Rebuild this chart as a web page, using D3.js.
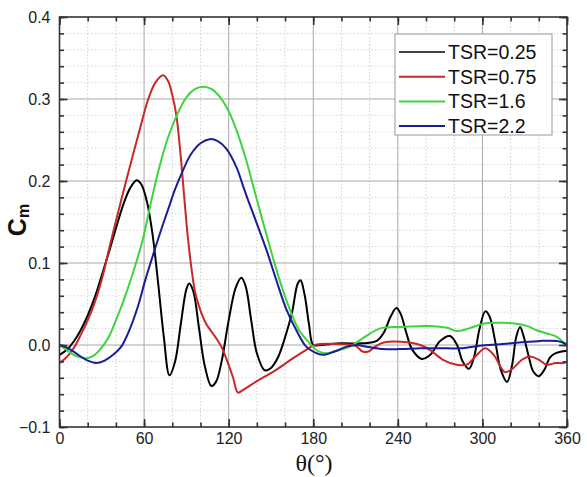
<!DOCTYPE html>
<html>
<head>
<meta charset="utf-8">
<script src="https://cdn.jsdelivr.net/npm/d3@7"></script>
<style>
  body { margin: 0; background: #fff; }
  svg { display: block; }
  .tick text { font-family: Arial, "Liberation Sans", sans-serif; }
</style>
</head>
<body>
<div id="chart"></div>
<script>
// series: [theta (deg), Cm]
const tsr025 = [
  [0, -0.012], [5, -0.006], [10, 0.004], [15, 0.018], [20, 0.036], [25, 0.058],
  [30, 0.085], [35, 0.113], [40, 0.142], [45, 0.17], [50, 0.191], [54.7, 0.201],
  [58, 0.196], [62, 0.175], [66, 0.135], [70, 0.075], [74, 0.01], [78, -0.037],
  [82, -0.02], [86, 0.025], [90, 0.068], [92, 0.075], [95, 0.065], [99, 0.02],
  [103, -0.025], [107.7, -0.05], [111, -0.045], [115, -0.02], [120, 0.03],
  [125, 0.07], [129, 0.082], [132, 0.072], [136, 0.03], [140, -0.01],
  [145.6, -0.031], [150, -0.028], [155, -0.015], [161, 0.015], [165, 0.04],
  [169, 0.075], [171, 0.079], [174, 0.06], [177, 0.025], [180, 0.0], [185, 0.0],
  [200, 0.002], [215, 0.002], [225, 0.005], [230, 0.015], [235, 0.035],
  [239, 0.045], [242, 0.038], [246, 0.015], [250, -0.005], [257, -0.017],
  [263, -0.012], [270, 0.005], [277, 0.011], [282, 0.0], [286, -0.02],
  [290.5, -0.029], [294, -0.015], [298, 0.02], [302, 0.041], [305, 0.035],
  [309, 0.005], [313, -0.03], [317.5, -0.045], [321, -0.025], [324, 0.01],
  [326.7, 0.022], [329, 0.012], [333, -0.015], [336, -0.032], [340, -0.038],
  [344, -0.03], [348, -0.015], [352, -0.01], [356, -0.008], [360, -0.007]
];
const tsr075 = [
  [0, -0.022], [5, -0.015], [10, -0.004], [15, 0.012], [20, 0.03], [25, 0.052],
  [30, 0.08], [36.7, 0.128], [45, 0.185], [50, 0.218], [56.8, 0.262], [63, 0.3],
  [68, 0.32], [73.4, 0.329], [77, 0.322], [80, 0.305], [82.9, 0.28], [86, 0.23],
  [88.5, 0.18], [91, 0.132], [93.5, 0.095], [96, 0.066], [99.4, 0.045],
  [104, 0.026], [108.8, 0.014], [112, 0.006], [114.8, -0.002], [118, -0.015],
  [123, -0.039], [126.6, -0.058], [130, -0.055], [140, -0.044], [154, -0.03],
  [165, -0.017], [175, -0.006], [181, 0.0], [200, 0.001], [210, -0.001],
  [215, -0.008], [219, -0.008], [224, -0.002], [230, 0.003], [248, 0.003],
  [256, 0.0], [262.8, -0.006], [272, -0.018], [281.7, -0.024], [289, -0.024],
  [295, -0.014], [302, -0.004], [308, -0.012], [316, -0.033], [322, -0.028],
  [328, -0.018], [334, -0.014], [340, -0.018], [345.7, -0.024], [352, -0.022],
  [357.5, -0.022], [360, -0.02]
];
const tsr16 = [
  [0, 0.0], [5, -0.006], [10, -0.012], [15, -0.015], [20, -0.016], [25, -0.012],
  [30, -0.003], [35, 0.01], [40, 0.03], [45, 0.052], [51, 0.082], [59, 0.128],
  [65, 0.175], [71, 0.218], [77, 0.253], [84, 0.283], [90, 0.302], [96, 0.312],
  [101.8, 0.315], [108, 0.312], [114, 0.302], [120, 0.285], [126, 0.26],
  [132, 0.228], [138, 0.19], [144, 0.152], [150, 0.115], [156, 0.08],
  [163, 0.045], [170, 0.018], [177, 0.003], [183, -0.007], [189, -0.01],
  [197, -0.007], [206, -0.002], [215, 0.008], [227, 0.02], [241.5, 0.022],
  [255.7, 0.023], [265, 0.023], [275, 0.021], [281.7, 0.017], [290, 0.02],
  [300.6, 0.026], [312, 0.027], [324, 0.026], [332, 0.023], [338.5, 0.018],
  [346, 0.014], [352.7, 0.01], [357, 0.004], [360, 0.0]
];
const tsr22 = [
  [0, 0.0], [5, -0.003], [10, -0.008], [15, -0.014], [20, -0.019], [26, -0.022],
  [32, -0.019], [38, -0.012], [43.8, -0.002], [50, 0.02], [55.6, 0.047],
  [61, 0.08], [67.5, 0.116], [72, 0.14], [77, 0.165], [82, 0.19], [87.6, 0.213],
  [93, 0.232], [100, 0.246], [106.5, 0.251], [112, 0.249], [118, 0.24],
  [125.5, 0.217], [130, 0.195], [133.7, 0.177], [140, 0.148], [146.8, 0.116],
  [154, 0.078], [161, 0.043], [168, 0.018], [175, -0.002], [181, -0.009],
  [187, -0.012], [195, -0.008], [203.6, -0.002], [210.7, 0.0], [218, -0.002],
  [229.6, -0.005], [241.5, -0.005], [256, -0.004], [270, -0.004], [284, -0.004],
  [298, -0.001], [312.5, 0.001], [326, 0.003], [341, 0.005], [352.7, 0.005],
  [357, 0.003], [360, 0.0]
];

const seriesNames = ["TSR=0.25", "TSR=0.75", "TSR=1.6", "TSR=2.2"];
const seriesColors = ["#000000", "#c8282a", "#3ed43e", "#1c1c96"];
const xTicks = [0, 60, 120, 180, 240, 300, 360];
const yTicks = [-0.1, 0.0, 0.1, 0.2, 0.3, 0.4];

const allSeries = [tsr025, tsr075, tsr16, tsr22];

const width = 587, height = 477;
const margin = { top: 17, right: 20, bottom: 50, left: 59.5 };

const svg = d3.select("#chart").append("svg")
  .attr("width", width)
  .attr("height", height);

const x = d3.scaleLinear().domain([0, 360]).range([margin.left, 567]);
const y = d3.scaleLinear().domain([-0.1, 0.4]).range([427, margin.top]);

// grid
const minorX = d3.range(0, 361, 20).filter(d => d % 60 !== 0);
const minorY = d3.range(-0.1, 0.4001, 0.02).filter(d => Math.abs(Math.round(d * 10) - d * 10) > 0.01);

const grid = svg.append("g");
grid.selectAll(".mx").data(minorX).join("line")
  .attr("x1", d => x(d)).attr("x2", d => x(d))
  .attr("y1", y(-0.1)).attr("y2", y(0.4))
  .attr("stroke", "#cfcfcf").attr("stroke-dasharray", "1.5,2");
grid.selectAll(".my").data(minorY).join("line")
  .attr("y1", d => y(d)).attr("y2", d => y(d))
  .attr("x1", x(0)).attr("x2", x(360))
  .attr("stroke", "#dadada").attr("stroke-dasharray", "1.5,2");
grid.selectAll(".Mx").data(xTicks.slice(1, -1)).join("line")
  .attr("x1", d => x(d)).attr("x2", d => x(d))
  .attr("y1", y(-0.1)).attr("y2", y(0.4))
  .attr("stroke", "#a8a8a8").attr("stroke-width", 1);
grid.selectAll(".My").data(yTicks.slice(1, -1)).join("line")
  .attr("y1", d => y(d)).attr("y2", d => y(d))
  .attr("x1", x(0)).attr("x2", x(360))
  .attr("stroke", "#a8a8a8").attr("stroke-width", 1);

// curves
const line = d3.line()
  .x(d => x(d[0]))
  .y(d => y(d[1]))
  .curve(d3.curveCatmullRom.alpha(0.5));

svg.append("g").selectAll("path").data(allSeries).join("path")
  .attr("d", line)
  .attr("fill", "none")
  .attr("stroke", (d, i) => seriesColors[i])
  .attr("stroke-width", 2)
  .attr("stroke-linejoin", "round");

// axes (inward ticks on all four sides)
const axisColor = "#333";
function styleAxis(g) {
  g.select(".domain").remove();
  g.selectAll(".tick line").attr("stroke", axisColor).attr("stroke-width", 1.6);
  g.selectAll(".tick text").attr("fill", "#222").attr("font-size", 16);
}
const minorXAll = d3.range(0, 361, 20);
const minorYAll = d3.range(-0.1, 0.4001, 0.02);

svg.append("g").attr("transform", `translate(0,${y(-0.1)})`)
  .call(d3.axisBottom(x).tickValues(minorXAll).tickSize(-4.5).tickFormat(""))
  .call(styleAxis);
svg.append("g").attr("transform", `translate(0,${y(-0.1)})`)
  .call(d3.axisBottom(x).tickValues(xTicks).tickSizeInner(-8).tickSizeOuter(0).tickPadding(6).tickFormat(d3.format("d")))
  .call(styleAxis);
svg.append("g").attr("transform", `translate(0,${y(0.4)})`)
  .call(d3.axisTop(x).tickValues(minorXAll).tickSize(-4.5).tickFormat(""))
  .call(styleAxis);
svg.append("g").attr("transform", `translate(0,${y(0.4)})`)
  .call(d3.axisTop(x).tickValues(xTicks).tickSize(-8).tickFormat(""))
  .call(styleAxis);

svg.append("g").attr("transform", `translate(${x(0)},0)`)
  .call(d3.axisLeft(y).tickValues(minorYAll).tickSize(-4.5).tickFormat(""))
  .call(styleAxis);
svg.append("g").attr("transform", `translate(${x(0)},0)`)
  .call(d3.axisLeft(y).tickValues(yTicks).tickSizeInner(-8).tickSizeOuter(0).tickPadding(9).tickFormat(d3.format(".1f")))
  .call(styleAxis);
svg.append("g").attr("transform", `translate(${x(360)},0)`)
  .call(d3.axisRight(y).tickValues(minorYAll).tickSize(-4.5).tickFormat(""))
  .call(styleAxis);
svg.append("g").attr("transform", `translate(${x(360)},0)`)
  .call(d3.axisRight(y).tickValues(yTicks).tickSize(-8).tickFormat(""))
  .call(styleAxis);

// frame
svg.append("rect")
  .attr("x", x(0)).attr("y", y(0.4))
  .attr("width", x(360) - x(0)).attr("height", y(-0.1) - y(0.4))
  .attr("fill", "none").attr("stroke", axisColor).attr("stroke-width", 1.6);

// axis titles
svg.append("text")
  .attr("x", 314).attr("y", 471)
  .attr("text-anchor", "middle")
  .attr("font-family", "'Liberation Serif', 'Times New Roman', serif")
  .attr("font-size", 24)
  .attr("fill", "#111")
  .text("θ(°)");

const yTitle = svg.append("text")
  .attr("transform", "translate(26,220) rotate(-90)")
  .attr("text-anchor", "middle")
  .attr("font-family", "Arial, 'Liberation Sans', sans-serif")
  .attr("font-weight", "bold")
  .attr("fill", "#111");
yTitle.append("tspan").attr("font-size", 25).text("C");
yTitle.append("tspan").attr("font-size", 16).attr("dy", 3).text("m");

// legend
const legend = svg.append("g").attr("transform", "translate(395,34)");
legend.append("rect")
  .attr("width", 157).attr("height", 101)
  .attr("fill", "#fff").attr("stroke", "#999").attr("stroke-width", 1);
const rows = legend.selectAll(".row").data(seriesNames).join("g")
  .attr("transform", (d, i) => `translate(0,${18 + i * 24.7})`);
rows.append("line")
  .attr("x1", 4).attr("x2", 50)
  .attr("stroke", (d, i) => seriesColors[i])
  .attr("stroke-width", (d, i) => i === 0 ? 1.5 : 2);
rows.append("text")
  .attr("x", 53).attr("y", 7)
  .attr("font-family", "Arial, 'Liberation Sans', sans-serif")
  .attr("font-size", 19.5)
  .attr("fill", "#111")
  .text(d => d);
</script>
</body>
</html>
